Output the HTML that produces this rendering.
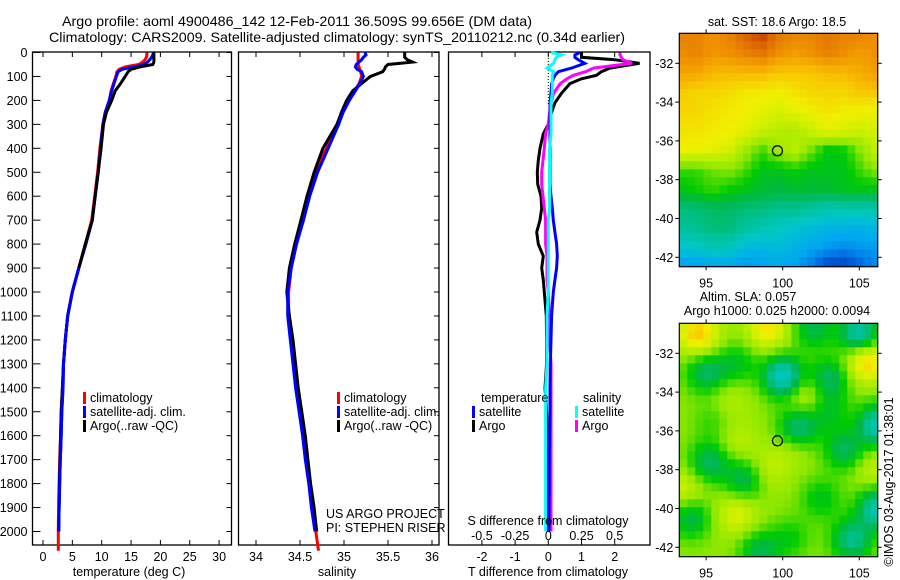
<!DOCTYPE html>
<html><head><meta charset="utf-8">
<style>
html,body{margin:0;padding:0;background:#fff;}
svg{display:block;font-family:"Liberation Sans",sans-serif;}
text{fill:#000;}
</style></head>
<body>
<svg id="fig" width="900" height="580" viewBox="0 0 900 580" xmlns="http://www.w3.org/2000/svg">
<rect x="0" y="0" width="900" height="580" fill="#fff"/>
<text x="62" y="26" font-size="14" textLength="470" lengthAdjust="spacingAndGlyphs">Argo profile: aoml 4900486_142 12-Feb-2011 36.509S 99.656E (DM data)</text>
<text x="49" y="42" font-size="14" textLength="576" lengthAdjust="spacingAndGlyphs">Climatology: CARS2009. Satellite-adjusted climatology: synTS_20110212.nc (0.34d earlier)</text>
<g id="g"></g>
</svg>
<script>
// ---------- data ----------
const depths=[0,10,20,30,40,50,60,70,80,100,130,160,200,250,300,400,500,600,700,800,900,1000,1100,1200,1300,1400,1500,1600,1700,1800,1900,2000,2080];
const tempClim=[17.7,17.7,17.6,17.4,17,16.3,14,13,12.6,12.4,12.0,11.6,11.3,10.6,10.2,9.7,9.3,8.8,8.3,7.2,6.1,5.0,4.2,3.8,3.5,3.3,3.1,3.0,2.85,2.75,2.65,2.6,2.6];
const tempSat=[18.8,18.7,18.5,18.2,17.8,17.2,15.5,13.5,12.8,12.5,12.1,11.7,11.3,10.6,10.2,9.8,9.4,8.9,8.4,7.3,6.1,5.0,4.2,3.8,3.5,3.4,3.2,3.1,2.95,2.85,2.75,2.65,null];
const tempArgo=[18.9,18.9,18.9,18.9,18.9,18.7,16.5,15,14.5,14,13.2,12.3,11.7,10.8,10.3,9.9,9.4,8.9,8.4,7.2,6.1,5.0,4.2,3.8,3.5,3.3,3.1,3.0,2.9,2.8,2.75,2.7,null];
const salClim=[35.16,35.16,35.16,35.16,35.16,35.16,35.17,35.18,35.19,35.2,35.17,35.12,35.05,34.98,34.93,34.8,34.68,34.6,34.53,34.46,34.4,34.37,34.37,34.4,34.43,34.46,34.5,34.54,34.57,34.61,34.65,34.68,34.71];
const salSat=[35.24,35.25,35.22,35.2,35.17,35.14,35.13,35.15,35.2,35.22,35.18,35.13,35.06,34.99,34.94,34.82,34.7,34.61,34.54,34.46,34.4,34.36,34.36,34.39,34.42,34.45,34.49,34.53,34.56,34.6,34.63,34.67,null];
const salArgo=[35.69,35.69,35.69,35.72,35.78,35.5,35.47,35.46,35.44,35.3,35.2,35.1,35.03,34.97,34.92,34.76,34.66,34.58,34.51,34.44,34.38,34.35,34.38,34.42,34.45,34.48,34.52,34.56,34.59,34.62,34.66,34.69,null];
const diffDepths=[0,10,20,30,45,65,80,95,110,130,170,210,250,300,340,400,450,500,550,600,650,700,750,800,850,900,950,1000,1100,1200,1300,1400,1500,1600,1700,1800,1900,2000];
const dTArgo=[1.0,1.0,1.0,2.0,2.75,1.85,1.6,1.45,1.0,0.65,0.4,0.2,0.1,0.0,-0.15,-0.25,-0.3,-0.33,-0.32,-0.22,-0.2,-0.25,-0.35,-0.3,-0.15,-0.2,-0.15,-0.12,-0.06,-0.05,-0.05,-0.1,-0.05,-0.03,0,0,0,0];
const dTSat=[0.95,0.8,0.8,0.9,1.1,0.7,0.3,0.2,0.15,0.1,0.08,0.05,0.05,0.05,0.05,0.05,0.05,0.05,0.05,0.08,0.12,0.15,0.2,0.25,0.27,0.25,0.2,0.15,0.1,0.08,0.06,0.05,0.05,0.04,0.03,0.03,0.02,0.02];
const dSArgo=[0.54,0.54,0.55,0.56,0.63,0.34,0.28,0.19,0.14,0.09,0.04,0.02,0.01,0.0,-0.02,-0.03,-0.04,-0.05,-0.05,-0.04,-0.03,-0.02,-0.02,-0.02,-0.01,-0.01,-0.01,0,0.01,0.01,0.02,0.02,0.02,0.02,0.02,0.02,0.02,0.02];
const dSSat=[0.02,0.1,0.06,0.05,0.04,-0.01,0.04,0.03,0.03,0.03,0.03,0.02,0.02,0.02,0.02,0.01,0.01,0.01,0.01,0.01,0.01,0.0,0.0,0.0,0.0,0.0,0.0,0,-0.01,-0.01,-0.01,-0.02,-0.02,-0.02,-0.02,-0.02,-0.02,-0.02];
const depthTicks=[0,100,200,300,400,500,600,700,800,900,1000,1100,1200,1300,1400,1500,1600,1700,1800,1900,2000];
const tempTicks=[0,5,10,15,20,25,30];
const salTicks=[34,34.5,35,35.5,36];
const dTTicks=[-2,-1,0,1,2];
const dSTicks=[-0.5,-0.25,0,0.25,0.5];
const lonTicks=[95,100,105];
const latTicks=[-32,-34,-36,-38,-40,-42];
const argoLon=99.656, argoLat=-36.509;
const sstGrid=[
[0.9,0.9,0.88,0.9,0.95,0.98,0.92,0.9,0.9,0.92,0.9,0.9,0.88],
[0.88,0.9,0.87,0.88,0.9,0.92,0.88,0.86,0.88,0.9,0.88,0.86,0.88],
[0.85,0.85,0.82,0.82,0.82,0.82,0.8,0.8,0.8,0.82,0.82,0.84,0.86],
[0.8,0.78,0.78,0.77,0.75,0.75,0.74,0.76,0.78,0.78,0.78,0.8,0.8],
[0.78,0.78,0.76,0.75,0.74,0.72,0.7,0.72,0.74,0.76,0.74,0.74,0.72],
[0.76,0.76,0.75,0.74,0.72,0.68,0.65,0.64,0.68,0.72,0.7,0.68,0.7],
[0.74,0.73,0.72,0.7,0.62,0.55,0.62,0.66,0.58,0.5,0.52,0.6,0.68],
[0.55,0.55,0.58,0.6,0.56,0.5,0.5,0.52,0.5,0.5,0.5,0.56,0.6],
[0.5,0.52,0.55,0.52,0.5,0.48,0.47,0.48,0.48,0.48,0.5,0.5,0.5],
[0.42,0.42,0.44,0.44,0.42,0.42,0.4,0.4,0.38,0.36,0.36,0.36,0.36],
[0.38,0.4,0.42,0.42,0.38,0.35,0.33,0.3,0.28,0.25,0.25,0.24,0.26],
[0.3,0.32,0.35,0.34,0.28,0.26,0.28,0.25,0.22,0.2,0.18,0.2,0.2],
[0.2,0.18,0.2,0.2,0.18,0.2,0.22,0.2,0.15,0.06,0.05,0.12,0.18]];
const slaBase=0.6;
const slaBlobLon=[100,105,106.2,95,103,101,95.2,97.5,104,94,104.5,98.5,102,106.2,97,101.5,94.5,99,105.5,99,106,93.5,97,96.5,100.5,102.5,97,103,100.5,95.5];
const slaBlobLat=[-33.2,-31,-35.7,-33,-33.3,-35.8,-37.6,-38.5,-37,-40.5,-41.6,-42.2,-30.7,-40,-40.3,-34.2,-31,-30.7,-32.4,-38,-38,-39,-36.5,-34.5,-37,-39.5,-32.5,-35,-41.5,-35.5];
const slaBlobAmp=[-0.28,-0.25,-0.26,-0.16,-0.16,-0.18,-0.16,-0.15,-0.15,-0.14,-0.2,-0.14,-0.14,-0.25,0.11,0.09,0.2,0.16,0.2,0.07,0.07,0.09,0.06,0.05,0.04,-0.1,-0.1,-0.1,-0.08,-0.06];

// ---------- helpers ----------
const NS="http://www.w3.org/2000/svg";
const root=document.getElementById('g');
function el(tag,attrs,parent){const e=document.createElementNS(NS,tag);for(const k in attrs)e.setAttribute(k,attrs[k]);(parent||root).appendChild(e);return e;}
const yD=d=>52.5+d*0.2395;
const xT=v=>43+v*5.87;
const xS=v=>256+(v-34)*88;
const xdT=v=>548.3+v*33.2;
const xdS=v=>548.3+v*132.8;
const FS=12.5;

function panel(name,x0,x1,xt,xs,fmt,yLabels){
  const g=el('g',{});
  
  
  const r=el('rect',{x:x0,y:52,width:x1-x0,height:493,fill:'none',stroke:'#000','stroke-width':1.3},g);
  
  
  depthTicks.forEach(d=>{
    const y=yD(d);
    if(yLabels){
      el('line',{x1:x0,x2:x0+8,y1:y,y2:y,stroke:'#000'},g);
      const t=el('text',{x:x0-5,y:y+4.5,'font-size':FS,'text-anchor':'end'},g);
      
      
      t.textContent=d;
    }
    if(name!=='diff-panel') el('line',{x1:x1-5,x2:x1,y1:y,y2:y,stroke:'#000'},g);
  });
  xt.forEach(v=>{
    const x=xs(v);
    el('line',{x1:x,x2:x,y1:52,y2:57,stroke:'#000'},g);
    el('line',{x1:x,x2:x,y1:540,y2:545,stroke:'#000'},g);
    if(fmt){
      const t=el('text',{x:x,y:561,'font-size':FS,'text-anchor':'middle'},g);
      
      
      t.textContent=fmt(v);
    }
  });
  return g;
}
function line(name,depthArr,vals,xs,color,w){
  let pts=[];
  vals.forEach((v,i)=>{if(v!==null)pts.push(xs(v).toFixed(1)+','+yD(depthArr[i]).toFixed(1));});
  const p=el('polyline',{points:pts.join(' '),fill:'none',stroke:color,'stroke-width':w,'stroke-linejoin':'miter'});
  
  
}
function txt(name,x,y,s,anchor,size){
  const t=el('text',{x:x,y:y,'font-size':size||FS,'text-anchor':anchor||'start'});
  
  
  t.textContent=s;return t;
}
function legend(name,x,y,color,label){
  const m=el('rect',{x:x,y:y-10,width:3,height:12,fill:color});
  
  
  txt(name,x+7,y,label);
}

// ---------- panel 1 temperature ----------
panel('temperature-panel',32.5,231.5,tempTicks,xT,v=>v,true);
line('temp-climatology-line',depths,tempClim,xT,'#f00',3);
line('temp-satellite-line',depths,tempSat,xT,'#00f',3);
line('temp-argo-line',depths,tempArgo,xT,'#000',3);
line('temp-satellite-line-top',depths.slice(20),tempSat.slice(20),xT,'#00f',3);
txt('temp-x-axis-title',129,576,'temperature (deg C)','middle');
legend('legend-climatology',83,402,'#f00','climatology');
legend('legend-satellite-adj',83,416,'#00f','satellite-adj. clim.');
legend('legend-argo',83,430,'#000','Argo(..raw -QC)');

// ---------- panel 2 salinity ----------
panel('salinity-panel',238.5,439,salTicks,xS,v=>v,false);
line('sal-climatology-line',depths,salClim,xS,'#f00',3);
line('sal-argo-line',depths,salArgo,xS,'#000',3);
line('sal-satellite-line',depths,salSat,xS,'#00f',3);
txt('sal-x-axis-title',337,576,'salinity','middle');
legend('legend2-climatology',337,402,'#f00','climatology');
legend('legend2-satellite-adj',337,416,'#00f','satellite-adj. clim.');
legend('legend2-argo',337,430,'#000','Argo(..raw -QC)');
txt('credit-project',326,518,'US ARGO PROJECT');
txt('credit-pi',326,532,'PI: STEPHEN RISER');

// ---------- panel 3 differences ----------
panel('diff-panel',448.5,650,dTTicks,xdT,v=>v,false);
const dz=el('line',{x1:548.3,x2:548.3,y1:52,y2:yD(220),stroke:'#000','stroke-dasharray':'1,2','stroke-width':1});


line('dT-argo-line',diffDepths,dTArgo,xdT,'#000',3);
line('dS-argo-line',diffDepths,dSArgo,xdS,'#f0f',3);
line('dT-satellite-line',diffDepths,dTSat,xdT,'#00f',3);
line('dS-satellite-line',diffDepths,dSSat,xdS,'#0ff',3);
dSTicks.forEach(v=>{txt('s-diff-tick-label',xdS(v),540,String(v),'middle');});
txt('s-diff-axis-title',548,525,'S difference from climatology','middle');
txt('t-diff-axis-title',548,576,'T difference from climatology','middle');
txt('legend3-temperature-heading',481,402,'temperature');
legend('legend3-temp-satellite',472,416,'#00f','satellite');
legend('legend3-temp-argo',472,430,'#000','Argo');
txt('legend3-salinity-heading',583,402,'salinity');
legend('legend3-sal-satellite',575,416,'#0ff','satellite');
legend('legend3-sal-argo',575,430,'#f0f','Argo');

// ---------- maps ----------
const cmStops=[[0,'#0020a0'],[0.12,'#0060e0'],[0.22,'#00a8f0'],[0.32,'#00c8c8'],[0.4,'#00c090'],[0.47,'#00b840'],[0.52,'#00cc00'],[0.6,'#90e800'],[0.68,'#c8f000'],[0.74,'#f0f000'],[0.8,'#f8c800'],[0.88,'#f09000'],[0.95,'#d86000'],[1,'#b02000']];
function hex(h){return [1,3,5].map(i=>parseInt(h.substr(i,2),16));}
function cmap(v){v=Math.max(0,Math.min(1,v));for(let i=1;i<cmStops.length;i++){if(v<=cmStops[i][0]){const a=cmStops[i-1],b=cmStops[i];const f=(v-a[0])/(b[0]-a[0]);const ca=hex(a[1]),cb=hex(b[1]);return 'rgb('+ca.map((c,k)=>Math.round(c+(cb[k]-c)*f)).join(',')+')';}}return cmStops[cmStops.length-1][1];}
const MX0=679.3,MX1=877.7,LON0=93.25,LON1=106.2;
const mxL=lon=>MX0+(lon-LON0)*(MX1-MX0)/(LON1-LON0);
function mapAxes(name,top,field){
  const g=el('g',{});
  
  
  const myL=lat=>top+30+(-32-lat)*19.4;
  const cs=8;
  for(let y=top;y<top+233.4;y+=cs){for(let x=MX0;x<MX1;x+=cs){
    const lon=LON0+((x+cs/2)-MX0)/(MX1-MX0)*(LON1-LON0);
    const lat=-32-((y+cs/2)-(top+30))/19.4;
    el('rect',{x:x,y:y,width:Math.min(cs,MX1-x)+0.5,height:Math.min(cs,top+233.4-y)+0.5,fill:cmap(field(lon,lat))},g);
  }}
  const fr=el('rect',{x:MX0,y:top,width:MX1-MX0,height:233.4,fill:'none',stroke:'#000','stroke-width':1.2},g);
  
  
  latTicks.forEach(l=>{const y=myL(l);
    el('line',{x1:MX0-4,x2:MX0,y1:y,y2:y,stroke:'#000'},g);
    el('line',{x1:MX1,x2:MX1+4,y1:y,y2:y,stroke:'#000'},g);
    const t=el('text',{x:MX0-6,y:y+4.5,'font-size':FS,'text-anchor':'end'},g);
    
    
    t.textContent=l;});
  lonTicks.forEach(l=>{const x=mxL(l);
    el('line',{x1:x,x2:x,y1:top-4,y2:top,stroke:'#000'},g);
    el('line',{x1:x,x2:x,y1:top+233.4,y2:top+237,stroke:'#000'},g);
    const t=el('text',{x:x,y:top+254,'font-size':FS,'text-anchor':'middle'},g);
    
    
    t.textContent=l;});
  const c=el('circle',{cx:mxL(argoLon),cy:myL(argoLat),r:5,fill:'none',stroke:'#000','stroke-width':1.2},g);
  
  
}
function sstField(lon,lat){
  const fr=Math.max(0,Math.min(12,(-30.5-lat))),fc=Math.max(0,Math.min(12,(lon-LON0)/(LON1-LON0)*12));
  const r0=Math.floor(Math.min(fr,11.999)),c0=Math.floor(Math.min(fc,11.999));const a=fr-r0,b=fc-c0;
  const G=sstGrid;
  return G[r0][c0]*(1-a)*(1-b)+G[r0][c0+1]*(1-a)*b+G[r0+1][c0]*a*(1-b)+G[r0+1][c0+1]*a*b;
}
function slaField(lon,lat){
  let v=slaBase;
  for(let i=0;i<slaBlobLon.length;i++){const dx=(lon-slaBlobLon[i])/1.3,dy=(lat-slaBlobLat[i])/1.05;v+=slaBlobAmp[i]*Math.exp(-(dx*dx+dy*dy));}
  return v;
}
mapAxes('sst-map',33.3,sstField);
mapAxes('sla-map',323.3,slaField);
txt('sst-map-title',777,26,'sat. SST: 18.6 Argo: 18.5','middle');
txt('sla-map-title-1',748,301,'Altim. SLA: 0.057','middle');
txt('sla-map-title-2',777,315,'Argo h1000: 0.025 h2000: 0.0094','middle');
const ts=txt('imos-timestamp',0,0,'©IMOS 03-Aug-2017 01:38:01','middle');
ts.setAttribute('transform','translate(893,482) rotate(-90)');
</script>
</body></html>
